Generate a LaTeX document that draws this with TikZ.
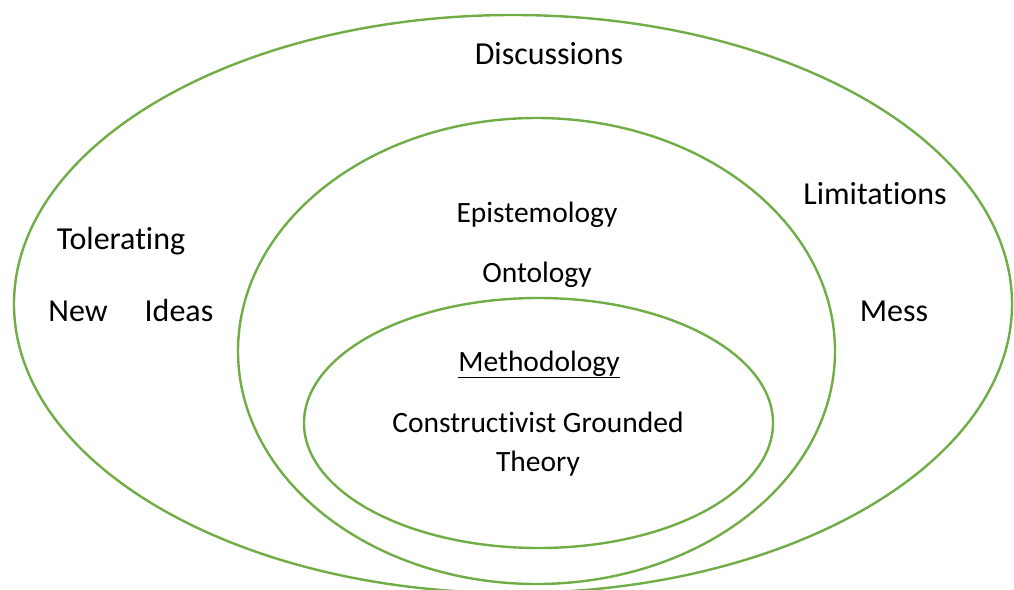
\documentclass[tikz,border=0pt]{standalone}
\usepackage{fontspec}
\setmainfont[Ligatures=NoCommon]{Carlito}
\definecolor{ogreen}{RGB}{112,173,71}
\begin{document}
\begin{tikzpicture}[x=1pt,y=-1pt,
  ring/.style={draw=ogreen,line width=2.4pt},
  lbl/.style={font=\fontsize{29.5}{34}\selectfont,inner sep=0pt,anchor=base},
  olbl/.style={lbl,font=\fontsize{32}{36}\selectfont}]
\useasboundingbox (0,0) rectangle (1014,589);
\draw[ring] (513,304) ellipse [x radius=499, y radius=289];
\draw[ring] (536.5,351) ellipse [x radius=298.5, y radius=233];
\draw[ring] (538.5,423) ellipse [x radius=234.5, y radius=125];
\node[olbl] (disc) at (549,64) {Discussions};
\node[lbl] (epi) at (537,222) {Epistemology};
\node[lbl] (onto) at (537,282) {Ontology};
\node[olbl] (lim) at (875,204) {Limitations};
\node[olbl] (mess) at (894,321) {Mess};
\node[olbl] (tol) at (121,249) {Tolerating};
\node[olbl] (new) at (78,321) {New};
\node[olbl] (ideas) at (179,321) {Ideas};
\node[lbl] (meth) at (539,371) {\underline{Methodology}};
\node[lbl] (cgt) at (538,432) {Constructivist Grounded};
\node[lbl] (theory) at (538,471) {Theory};
\end{tikzpicture}
\end{document}
